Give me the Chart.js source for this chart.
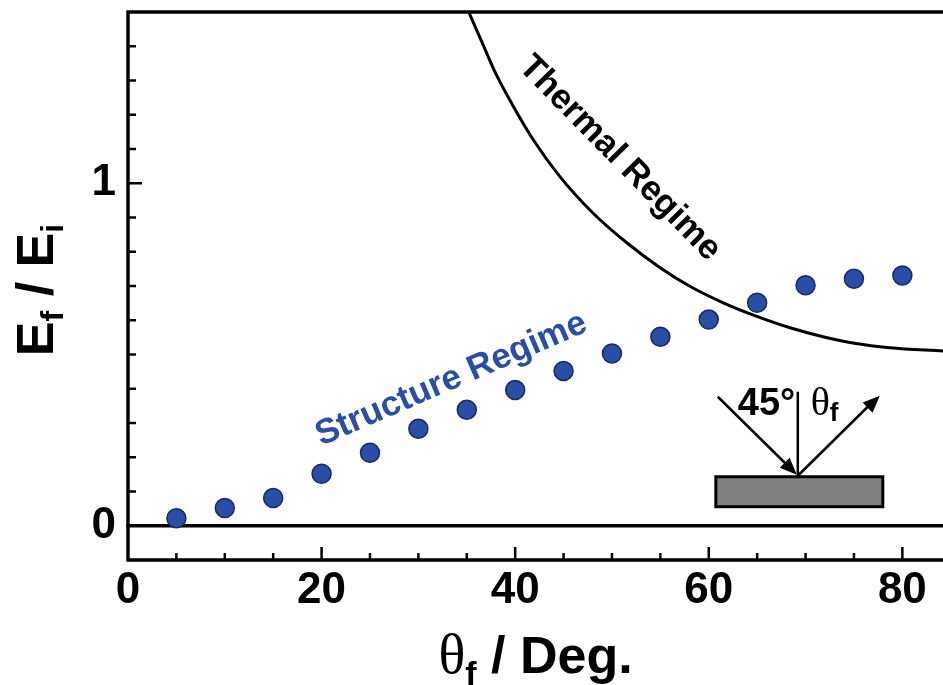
<!DOCTYPE html>
<html>
<head>
<meta charset="utf-8">
<script src="https://cdn.jsdelivr.net/npm/chart.js@4.4.1/dist/chart.umd.min.js"></script>
<style>
  html, body { margin: 0; padding: 0; background: #fff; }
  canvas { display: block; }
</style>
</head>
<body>
<canvas id="chart" width="943" height="685" style="width:943px;height:685px"></canvas>
<script>
// measured points (structure regime)
const xDeg = [5, 10, 15, 20, 25, 30, 35, 40, 45, 50, 55, 60, 65, 70, 75, 80];
const ratio = [0.022, 0.052, 0.081, 0.152, 0.213, 0.283, 0.339, 0.396, 0.452, 0.503, 0.552, 0.602, 0.651, 0.702, 0.721, 0.731];

// thermal regime curve
const thermalX = [35.2, 36.6, 38.0, 39.7, 41.8, 44.6, 48.0, 51.5, 54.9, 58.0, 61.5, 64.9, 68.4, 71.8, 75.2, 78.7, 84.2];
const thermalY = [1.50, 1.41, 1.32, 1.23, 1.13, 1.02, 0.914, 0.827, 0.755, 0.700, 0.651, 0.612, 0.578, 0.552, 0.532, 0.520, 0.510];

// axis ticks
const xTicks = [0, 20, 40, 60, 80];
const yTicks = [0, 1];

const FONT = "'Liberation Sans', Arial, sans-serif";
const SERIF = "'Liberation Serif', 'Times New Roman', serif";
const BLUE = '#2a4ea6';

// draw a row of text pieces: [text, font, baselineShift]
function drawPieces(ctx, pieces, x, y) {
  let total = 0;
  pieces.forEach(p => { ctx.font = p[1]; total += ctx.measureText(p[0]).width; });
  let cx = x - total / 2;
  pieces.forEach(p => {
    ctx.font = p[1];
    ctx.fillText(p[0], cx, y + (p[2] || 0));
    cx += ctx.measureText(p[0]).width;
  });
}

function arrowHead(ctx, x1, y1, x2, y2) {
  const ang = Math.atan2(y2 - y1, x2 - x1);
  const len = 17, half = 7;
  ctx.beginPath();
  ctx.moveTo(x2, y2);
  ctx.lineTo(x2 - len * Math.cos(ang) + half * Math.sin(ang), y2 - len * Math.sin(ang) - half * Math.cos(ang));
  ctx.lineTo(x2 - len * Math.cos(ang) - half * Math.sin(ang), y2 - len * Math.sin(ang) + half * Math.cos(ang));
  ctx.closePath();
  ctx.fill();
}

const decor = {
  id: 'decor',
  beforeDatasetsDraw(chart) {
    const { ctx, chartArea: a, scales: { x, y } } = chart;
    ctx.save();
    ctx.strokeStyle = '#000';
    ctx.lineWidth = 3.5;
    ctx.lineCap = 'square';
    ctx.beginPath();
    ctx.moveTo(a.right + 5, a.top);
    ctx.lineTo(a.left, a.top);
    ctx.lineTo(a.left, a.bottom);
    ctx.lineTo(a.right + 5, a.bottom);
    ctx.stroke();

    // zero line
    const y0 = y.getPixelForValue(0);
    ctx.beginPath();
    ctx.moveTo(a.left, y0);
    ctx.lineTo(a.right + 5, y0);
    ctx.stroke();

    // inward ticks
    ctx.lineWidth = 2.5;
    ctx.lineCap = 'butt';
    for (let v = 5; v <= x.max; v += 5) {
      const px = x.getPixelForValue(v);
      const len = v % 20 === 0 ? 13 : 7;
      ctx.beginPath();
      ctx.moveTo(px, a.bottom);
      ctx.lineTo(px, a.bottom - len);
      ctx.stroke();
    }
    for (let i = 1; i <= 15; i++) {
      const v = i / 10;
      if (v >= y.max) break;
      const py = y.getPixelForValue(v);
      const len = i % 10 === 0 ? 14 : 8;
      ctx.beginPath();
      ctx.moveTo(a.left, py);
      ctx.lineTo(a.left + len, py);
      ctx.stroke();
    }
    ctx.restore();
  },
  afterDatasetsDraw(chart) {
    const { ctx, scales: { x, y } } = chart;
    ctx.save();
    ctx.textAlign = 'center';
    ctx.textBaseline = 'middle';

    // Structure Regime label
    ctx.save();
    ctx.translate(x.getPixelForValue(33.4), y.getPixelForValue(0.427));
    ctx.rotate(-23.3 * Math.PI / 180);
    ctx.fillStyle = BLUE;
    ctx.font = 'bold 35px ' + FONT;
    ctx.fillText('Structure Regime', 0, 0);
    ctx.restore();

    // Thermal Regime label
    ctx.save();
    ctx.translate(x.getPixelForValue(50.8), y.getPixelForValue(1.073));
    ctx.rotate(45.5 * Math.PI / 180);
    ctx.fillStyle = '#000';
    ctx.font = 'bold 35px ' + FONT;
    ctx.fillText('Thermal Regime', 0, 0);
    ctx.restore();

    // inset: surface with incoming / outgoing beams
    const vx = x.getPixelForValue(69.2);
    const vy = y.getPixelForValue(0.146);
    ctx.fillStyle = '#808080';
    ctx.fillRect(vx - 82, vy + 1, 167, 30);
    ctx.strokeStyle = '#000';
    ctx.lineWidth = 3;
    ctx.strokeRect(vx - 82, vy + 1, 167, 30);

    ctx.lineWidth = 2.5;
    ctx.beginPath();
    ctx.moveTo(vx, vy);
    ctx.lineTo(vx, vy - 84);
    ctx.stroke();

    ctx.fillStyle = '#000';
    ctx.beginPath();
    ctx.moveTo(vx - 80, vy - 79);
    ctx.lineTo(vx - 8, vy - 8);
    ctx.stroke();
    arrowHead(ctx, vx - 80, vy - 79, vx - 1, vy - 1);

    ctx.beginPath();
    ctx.moveTo(vx, vy);
    ctx.lineTo(vx + 73, vy - 72);
    ctx.stroke();
    arrowHead(ctx, vx, vy, vx + 82, vy - 80);

    ctx.textAlign = 'left';
    ctx.textBaseline = 'alphabetic';
    ctx.font = 'bold 38px ' + FONT;
    ctx.fillText('45°', vx - 60, vy - 61);
    ctx.font = '40px ' + SERIF;
    ctx.fillText('θ', vx + 13, vy - 61);
    ctx.font = 'bold 26px ' + FONT;
    ctx.fillText('f', vx + 32, vy - 55);
    ctx.restore();
  },
  afterDraw(chart) {
    const { ctx, chartArea: a } = chart;
    ctx.save();
    ctx.fillStyle = '#000';
    ctx.textAlign = 'left';
    ctx.textBaseline = 'alphabetic';

    // x title
    drawPieces(ctx, [
      ['θ', '56px ' + SERIF, 0],
      ['f', 'bold 34px ' + FONT, 12],
      [' / Deg.', 'bold 52px ' + FONT, 0]
    ], (a.left + a.right) / 2, 673);

    // y title
    ctx.translate(53, 290);
    ctx.rotate(-Math.PI / 2);
    drawPieces(ctx, [
      ['E', 'bold 52px ' + FONT, 0],
      ['f', 'bold 32px ' + FONT, 10],
      [' / ', 'bold 52px ' + FONT, 0],
      ['E', 'bold 52px ' + FONT, 0],
      ['i', 'bold 32px ' + FONT, 10]
    ], 0, 0);
    ctx.restore();
  }
};

const ctx = document.getElementById('chart').getContext('2d');
new Chart(ctx, {
  type: 'scatter',
  data: {
    datasets: [
      {
        type: 'line',
        label: 'Thermal Regime',
        data: thermalX.map((v, i) => ({ x: v, y: thermalY[i] })),
        borderColor: '#000',
        borderWidth: 3,
        pointRadius: 0,
        fill: false,
        cubicInterpolationMode: 'monotone',
        order: 2
      },
      {
        label: 'Structure Regime',
        data: xDeg.map((v, i) => ({ x: v, y: ratio[i] })),
        backgroundColor: BLUE,
        borderColor: '#16296a',
        borderWidth: 1.5,
        pointRadius: 9.5,
        order: 1
      }
    ]
  },
  options: {
    responsive: false,
    devicePixelRatio: 1,
    animation: false,
    layout: { autoPadding: false, padding: { top: 12, right: 0, left: 0, bottom: 0 } },
    plugins: {
      legend: { display: false },
      tooltip: { enabled: false }
    },
    scales: {
      x: {
        type: 'linear',
        min: 0,
        max: 84.2,
        grid: { display: false, drawTicks: false },
        border: { display: false },
        afterBuildTicks: s => { s.ticks = xTicks.map(v => ({ value: v })); },
        afterFit: s => { s.height = 125; s.paddingLeft = 0; s.paddingRight = 0; },
        ticks: {
          color: '#000',
          padding: 4,
          font: { family: FONT, size: 44, weight: 'bold' }
        }
      },
      y: {
        min: -0.1,
        max: 1.5,
        grid: { display: false, drawTicks: false },
        border: { display: false },
        afterBuildTicks: s => { s.ticks = yTicks.map(v => ({ value: v })); },
        afterFit: s => { s.width = 128; s.paddingTop = 0; s.paddingBottom = 0; },
        ticks: {
          color: '#000',
          padding: 12,
          font: { family: FONT, size: 44, weight: 'bold' }
        }
      }
    }
  },
  plugins: [decor]
});
</script>
</body>
</html>
